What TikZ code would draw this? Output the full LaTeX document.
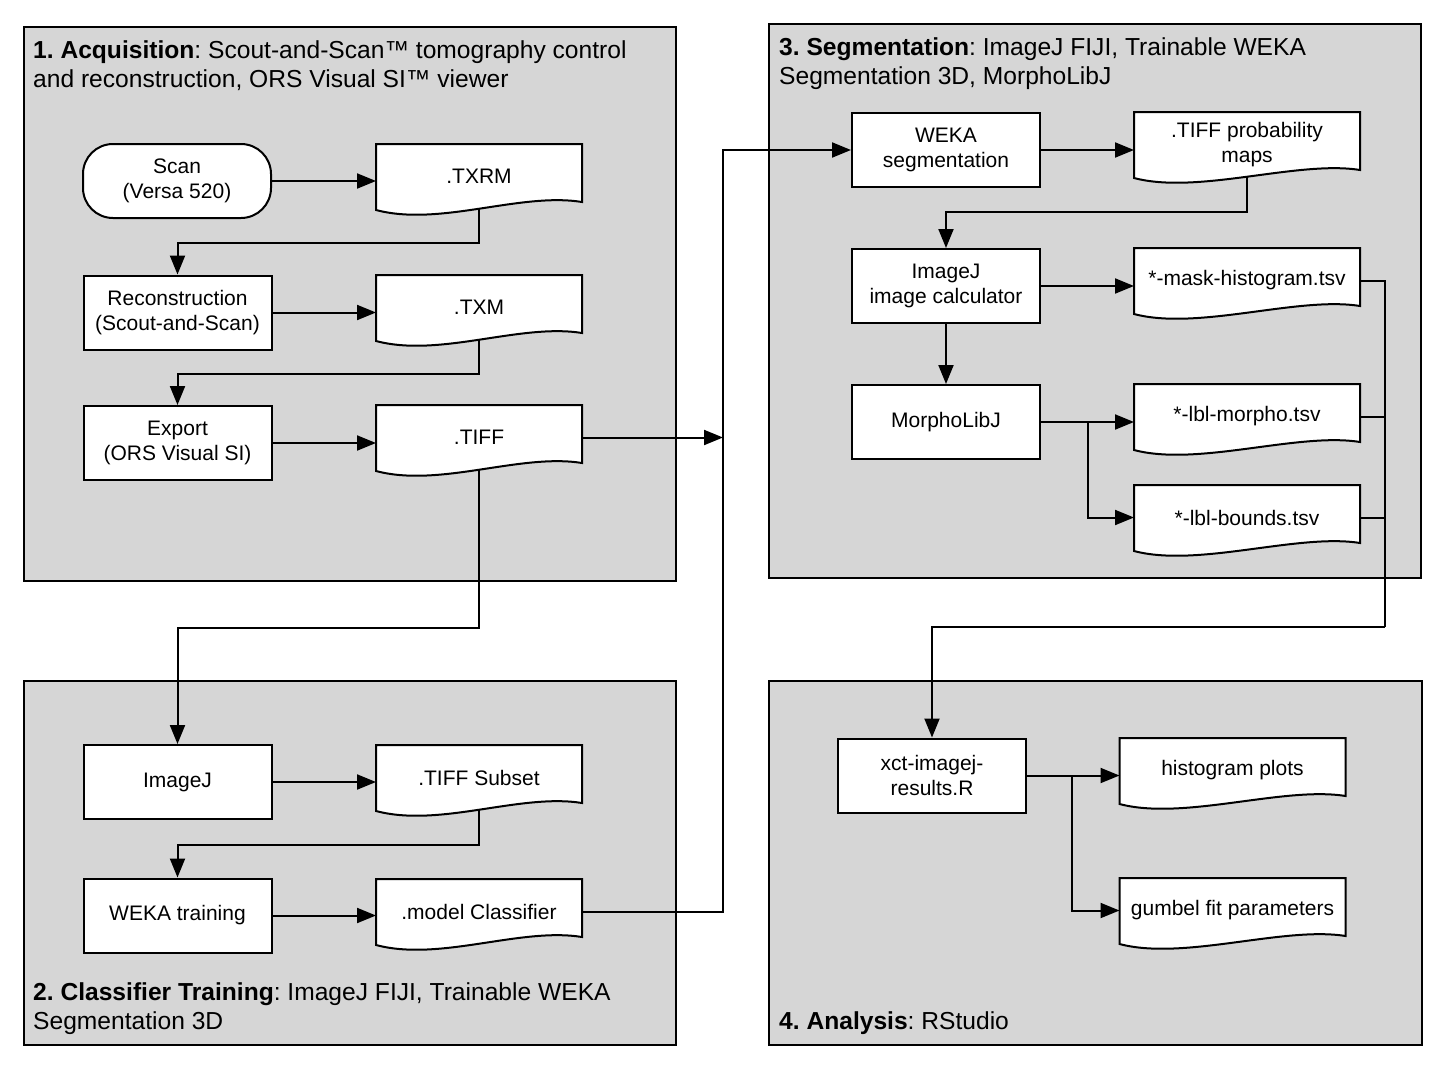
\documentclass[tikz,border=0pt]{standalone}
\usepackage{fontspec}
\setmainfont{Liberation Sans}
\usetikzlibrary{arrows.meta,calc}
\frenchspacing

\definecolor{panelgray}{RGB}{214,214,214}
\newcommand{\nodefont}{\fontsize{21}{25}\selectfont}
\newcommand{\titlefont}{\fontsize{24.6}{28.8}\selectfont}

\pgfdeclarelayer{panels}
\pgfdeclarelayer{docs}
\pgfsetlayers{panels,docs,main}

\tikzset{
  box/.style={draw, fill=white, line width=2pt, minimum width=188pt, minimum height=74pt, align=center, font=\nodefont},
  term/.style={box, rounded corners=30pt},
  doc/.style={minimum width=206pt, minimum height=65pt, outer sep=0pt, align=center, font=\nodefont},
  wide/.style={minimum width=226pt},
  ln/.style={line width=2pt},
  arr/.style={ln, -{Triangle[length=19pt,width=15pt]}},
  panel/.style={draw, fill=panelgray, line width=2pt},
  title/.style={anchor=base west, align=left, inner sep=0pt, font=\titlefont},
}

\begin{document}
\begin{tikzpicture}[x=1pt, y=-1pt]
  \useasboundingbox (0,0) rectangle (1443,1068);

  % panels
  \begin{pgfonlayer}{panels}
    \draw[panel] (24,27) rectangle (676,581);
    \draw[panel] (24,681) rectangle (676,1045);
    \draw[panel] (769,24) rectangle (1421,578);
    \draw[panel] (769,681) rectangle (1422,1045);
  \end{pgfonlayer}

  % titles (base = last line)
  \node[title] (t1) at (33,87.5) {\textbf{1. Acquisition}: Scout-and-Scan™ tomography control\\and reconstruction, ORS Visual SI™ viewer};
  \node[title] (t2) at (33,1029.5) {\textbf{2. Classifier Training}: ImageJ FIJI, Trainable WEKA\\Segmentation 3D};
  \node[title] (t3) at (779,84.5) {\textbf{3. Segmentation}: ImageJ FIJI, Trainable WEKA\\Segmentation 3D, MorphoLibJ};
  \node[title] (t4) at (779,1029) {\textbf{4. Analysis}: RStudio};

  % acquisition
  \node[term] (scan) at (177,181) {Scan\\(Versa 520)};
  \node[doc] (txrm) at (479,176.5) {.TXRM};
  \node[box] (recon) at (177.5,312.5) {Reconstruction\\(Scout-and-Scan)};
  \node[doc] (txm) at (479,307.5) {.TXM};
  \node[box] (export) at (177.5,443) {Export\\(ORS Visual SI)};
  \node[doc] (tiff) at (479,437.5) {.TIFF};

  % classifier training
  \node[box] (imagej) at (177.5,782) {ImageJ};
  \node[doc] (subset) at (479,777.5) {.TIFF Subset};
  \node[box] (wekatrain) at (177.5,915.5) {WEKA training};
  \node[doc] (model) at (479,911.5) {.model Classifier};

  % segmentation
  \node[box] (wekaseg) at (946,150) {WEKA\\segmentation};
  \node[doc, wide] (prob) at (1247,144.5) {.TIFF probability\\maps};
  \node[box] (calc) at (946,286) {ImageJ\\image calculator};
  \node[doc, wide] (mask) at (1247,280.5) {*-mask-histogram.tsv};
  \node[box] (morpho) at (946,422) {MorphoLibJ};
  \node[doc, wide] (lblmorpho) at (1247,416.5) {*-lbl-morpho.tsv};
  \node[doc, wide] (lblbounds) at (1247,517.5) {*-lbl-bounds.tsv};

  % analysis
  \node[box] (xct) at (932,775.5) {xct-imagej-\\results.R};
  \node[doc, wide] (hist) at (1232.5,770.5) {histogram plots};
  \node[doc, wide] (gumbel) at (1232.5,910.5) {gumbel fit parameters};

  % document outlines with wavy bottom
  \begin{pgfonlayer}{docs}
    \foreach \d in {txrm,txm,tiff,subset,model,prob,mask,lblmorpho,lblbounds,hist,gumbel}
      \draw[ln, fill=white] (\d.north west) -- (\d.north east) -- ($(\d.south east)+(0,-7)$)
        .. controls +(-62,-10) and +(64,17) .. ($(\d.south west)+(0,1)$) -- cycle;
  \end{pgfonlayer}

  \coordinate (bus) at (723,440);
  \coordinate (fork1) at (1088,422);
  \coordinate (merge) at (1385,627);
  \coordinate (fork2) at (1072,775.5);

  \draw[arr] (scan) -- (txrm.west |- scan);
  \draw[arr] (txrm.south) -- ++(0,34) -| (recon.north);
  \draw[arr] (recon) -- (txm.west |- recon);
  \draw[arr] (txm.south) -- ++(0,34) -| (export.north);
  \draw[arr] (export) -- (tiff.west |- export);
  \draw[arr] (tiff.south) -- ++(0,158) -| (imagej.north);
  \draw[arr] (tiff.east) -- (bus |- tiff.east);

  \draw[arr] (imagej) -- (subset.west |- imagej);
  \draw[arr] (subset.south) -- ++(0,35) -| (wekatrain.north);
  \draw[arr] (wekatrain) -- (model.west |- wekatrain);
  \draw[arr] (model.east) -| (bus) |- (wekaseg.west);

  \draw[arr] (wekaseg) -- (prob.west |- wekaseg);
  \draw[arr] (prob.south) -- ++(0,35) -| (calc.north);
  \draw[arr] (calc) -- (mask.west |- calc);
  \draw[arr] (calc) -- (morpho);
  \draw[arr] (morpho) -- (lblmorpho.west |- morpho);
  \draw[arr] (fork1) |- (lblbounds.west);
  \draw[ln] (mask.east) -| (merge);
  \draw[ln] (lblmorpho.east) -- (lblmorpho.east -| merge);
  \draw[ln] (lblbounds.east) -- (lblbounds.east -| merge);
  \draw[arr] (merge) -| (xct.north);

  \draw[arr] (xct) -- (hist.west |- xct);
  \draw[arr] (fork2) |- (gumbel.west);
\end{tikzpicture}
\end{document}
